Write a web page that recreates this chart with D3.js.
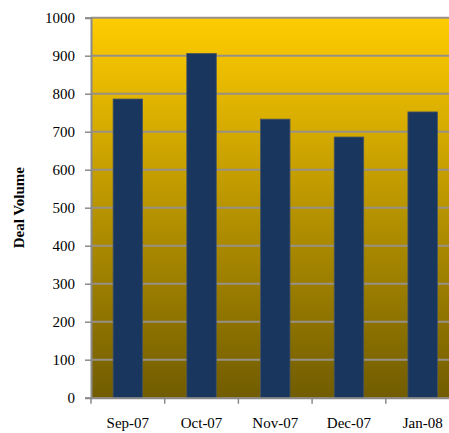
<!doctype html>
<html>
  <head>
    <script src="https://d3js.org/d3.v7.min.js"></script>
    <style>
      body { margin: 0; background: #fff; }
      .tick text { font-family: "Liberation Serif", "DejaVu Serif", serif; font-size: 15px; fill: #000; }
    </style>
  </head>
  <body>
    <svg class="chart" width="449" height="433"></svg>
    <script>
      var months = ["Sep-07", "Oct-07", "Nov-07", "Dec-07", "Jan-08"];
      var dealVolume = [786, 906, 733, 686, 752];
      var yTicks = [0, 100, 200, 300, 400, 500, 600, 700, 800, 900, 1000];

      var svg = d3.select("svg"),
        plotLeft = 91, plotTop = 17.7, plotRight = 459.5, plotBottom = 397.7;

      var xScale = d3.scaleBand().domain(months).range([plotLeft, plotRight]).paddingInner(0.6).paddingOuter(0.3);
      var xTicks = d3.scaleBand().domain(months).range([plotLeft, plotRight]);
      var yScale = d3.scaleLinear().domain([0, 1000]).range([plotBottom, plotTop]);

      var grad = svg.append("defs").append("linearGradient")
        .attr("id", "bg").attr("x1", 0).attr("y1", 0).attr("x2", 0).attr("y2", 1);
      grad.append("stop").attr("offset", "0%").attr("stop-color", "#ffcc00");
      grad.append("stop").attr("offset", "100%").attr("stop-color", "#715c00");

      svg.append("rect")
        .attr("x", plotLeft).attr("y", plotTop)
        .attr("width", plotRight - plotLeft).attr("height", plotBottom - plotTop)
        .attr("fill", "url(#bg)");

      // gridlines
      svg.selectAll(".grid")
        .data(yTicks.filter(function(d){ return d > 0; }))
        .enter().append("line")
        .attr("x1", plotLeft).attr("x2", plotRight)
        .attr("y1", function(d){ return yScale(d); })
        .attr("y2", function(d){ return yScale(d); })
        .attr("stroke", "#979087").attr("stroke-width", 2);

      svg.selectAll(".bar")
        .data(dealVolume)
        .enter().append("rect")
        .attr("x", function(d, i){ return xScale(months[i]); })
        .attr("y", function(d){ return yScale(d); })
        .attr("width", xScale.bandwidth())
        .attr("height", function(d){ return plotBottom - yScale(d); })
        .attr("fill", "#19375e")
        .attr("stroke", "#4a5560").attr("stroke-width", 0.8);

      var yAxis = svg.append("g")
        .attr("transform", "translate(" + plotLeft + ",0)")
        .call(d3.axisLeft(yScale).tickValues(yTicks).tickFormat(d3.format("d")).tickSize(6).tickPadding(10));
      yAxis.select(".domain").attr("stroke", "#8a8a8a").attr("stroke-width", 2);
      yAxis.selectAll(".tick line").attr("stroke", "#8a8a8a").attr("stroke-width", 1.5);

      var xAxis = svg.append("g")
        .attr("transform", "translate(0," + plotBottom + ")")
        .call(d3.axisBottom(xTicks).tickSize(0).tickPadding(20));
      xAxis.select(".domain").attr("stroke", "#8a8a8a").attr("stroke-width", 2);

      // tick marks at the category boundaries
      xAxis.selectAll(".bound")
        .data(months)
        .enter().append("line")
        .attr("x1", function(d){ return xTicks(d); })
        .attr("x2", function(d){ return xTicks(d); })
        .attr("y1", 0).attr("y2", 6)
        .attr("stroke", "#8a8a8a").attr("stroke-width", 1.5);

      svg.append("text")
        .attr("transform", "translate(24," + ((plotTop + plotBottom) / 2) + ") rotate(-90)")
        .attr("text-anchor", "middle")
        .style("font-family", "'Liberation Serif', 'DejaVu Serif', serif")
        .style("font-size", "15px")
        .style("font-weight", "bold")
        .text("Deal Volume");
    </script>
  </body>
</html>
